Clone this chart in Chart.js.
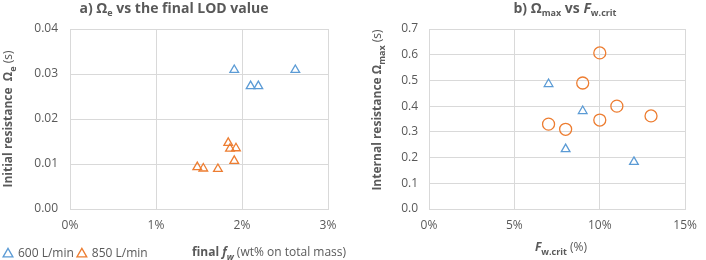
<!DOCTYPE html>
<html>
<head>
    <script src="https://cdn.jsdelivr.net/npm/chart.js@4.4.1/dist/chart.umd.min.js"></script>
    <style>
        body { margin: 0; background: #fff; }
        .box { position: absolute; top: 0; width: 353px; height: 260px; }
    </style>
</head>
<body>
<div class="box" style="left:0"><canvas id="chartA" width="353" height="260"></canvas></div>
<div class="box" style="left:353px"><canvas id="chartB" width="353" height="260"></canvas></div>

<script>
    // a) final LOD (%) vs initial resistance
    const lod600 = [1.91, 2.10, 2.19, 2.62];
    const omegaE600 = [0.0309, 0.0273, 0.0273, 0.0309];
    const lod850 = [1.48, 1.55, 1.72, 1.84, 1.86, 1.93, 1.91];
    const omegaE850 = [0.0093, 0.0090, 0.0089, 0.0147, 0.0134, 0.0135, 0.0107];

    // b) Fw.crit (%) vs internal resistance
    const fw600 = [7, 9, 8, 12];
    const omegaMax600 = [0.486, 0.381, 0.233, 0.183];
    const fw850 = [10, 9, 11, 13, 10, 7, 8];
    const omegaMax850 = [0.607, 0.490, 0.400, 0.362, 0.346, 0.330, 0.310];

    const seriesNames = ['600 L/min', '850 L/min'];

    const BLUE = '#5b9bd5';
    const ORANGE = '#ed7d31';
    const GRID = '#d9d9d9';
    const TXT = '#595959';
    const FONT = '"Open Sans"';

    function pts(xs, ys) {
        return xs.map((x, i) => ({x: x, y: ys[i]}));
    }

    // draws a line of text made of pieces, some of them subscript
    function drawRich(ctx, parts, cx, cy, rotate) {
        ctx.save();
        ctx.translate(cx, cy);
        if (rotate) ctx.rotate(-Math.PI / 2);
        ctx.fillStyle = TXT;
        ctx.textBaseline = 'middle';
        let total = 0;
        parts.forEach(p => {
            ctx.font = p.font;
            p.w = ctx.measureText(p.text).width;
            total += p.w;
        });
        let x = -total / 2;
        parts.forEach(p => {
            ctx.font = p.font;
            ctx.fillText(p.text, x, p.sub ? 4 : 0);
            x += p.w;
        });
        ctx.restore();
    }

    const richText = {
        id: 'richText',
        afterDraw(chart, args, opts) {
            (opts.items || []).forEach(it => drawRich(chart.ctx, it.parts, it.x, it.y, it.rotate));
        }
    };

    const B14 = 'bold 14px ' + FONT;
    const B12 = 'bold 12px ' + FONT;
    const R12 = '12px ' + FONT;
    const SUB = 'bold 9px ' + FONT;
    const BI12 = 'italic bold 12px ' + FONT;
    const BI14 = 'italic bold 14px ' + FONT;

    function axisOpts(min, max, step, fmt, pad, width, height) {
        return {
            type: 'linear',
            min: min,
            max: max,
            border: {color: GRID},
            grid: {color: GRID, drawTicks: false},
            ticks: {
                stepSize: step,
                color: TXT,
                padding: pad,
                font: {family: FONT, size: 12},
                callback: fmt
            },
            afterFit: function (s) {
                if (width) s.width = width;
                if (height) s.height = height;
            }
        };
    }

    var chartA = new Chart(document.getElementById('chartA'), {
        type: 'scatter',
        data: {
            datasets: [{
                label: seriesNames[0],
                data: pts(lod600, omegaE600),
                pointStyle: 'triangle',
                pointRadius: 5,
                borderColor: BLUE,
                backgroundColor: 'rgba(0,0,0,0)',
                borderWidth: 1.3
            }, {
                label: seriesNames[1],
                data: pts(lod850, omegaE850),
                pointStyle: 'triangle',
                pointRadius: 5,
                borderColor: ORANGE,
                backgroundColor: 'rgba(0,0,0,0)',
                borderWidth: 1.3
            }]
        },
        options: {
            responsive: false,
            animation: false,
            devicePixelRatio: 1,
            layout: {padding: {top: 29, right: 25, bottom: -10, left: 0}},
            scales: {
                x: axisOpts(0, 3, 1, v => v + '%', 9, 0, 35),
                y: axisOpts(0, 0.04, 0.01, v => v.toFixed(2), 12, 70, 0)
            },
            plugins: {
                tooltip: {enabled: false},
                legend: {
                    position: 'bottom',
                    align: 'start',
                    labels: {
                        usePointStyle: true,
                        boxWidth: 8,
                        boxHeight: 8,
                        padding: 4,
                        color: TXT,
                        font: {family: FONT, size: 12}
                    }
                },
                richText: {
                    items: [
                        {x: 174, y: 9, parts: [
                            {text: 'a) Ω', font: B14},
                            {text: 'e', font: SUB, sub: true},
                            {text: ' vs the final LOD value', font: B14}]},
                        {x: 9, y: 119, rotate: true, parts: [
                            {text: 'Initial resistance  Ω', font: B12},
                            {text: 'e', font: SUB, sub: true},
                            {text: ' (s)', font: R12}]},
                        {x: 269, y: 253, parts: [
                            {text: 'final ', font: B12},
                            {text: 'f', font: BI12},
                            {text: 'w', font: 'italic ' + SUB, sub: true},
                            {text: ' (wt% on total mass)', font: R12}]}
                    ]
                }
            }
        },
        plugins: [richText]
    });

    var chartB = new Chart(document.getElementById('chartB'), {
        type: 'scatter',
        data: {
            datasets: [{
                label: seriesNames[0],
                data: pts(fw600, omegaMax600),
                pointStyle: 'triangle',
                pointRadius: 5,
                borderColor: BLUE,
                backgroundColor: 'rgba(0,0,0,0)',
                borderWidth: 1.3
            }, {
                label: seriesNames[1],
                data: pts(fw850, omegaMax850),
                pointStyle: 'circle',
                pointRadius: 6,
                borderColor: ORANGE,
                backgroundColor: 'rgba(0,0,0,0)',
                borderWidth: 1.3
            }]
        },
        options: {
            responsive: false,
            animation: false,
            devicePixelRatio: 1,
            layout: {padding: {top: 29, right: 12, bottom: 27, left: 0}},
            scales: {
                x: axisOpts(0, 15, 5, v => v + '%', 9, 0, 24),
                y: axisOpts(0, 0.7, 0.1, v => v.toFixed(1), 11, 76, 0)
            },
            plugins: {
                tooltip: {enabled: false},
                legend: {display: false},
                richText: {
                    items: [
                        {x: 212, y: 9, parts: [
                            {text: 'b) Ω', font: B14},
                            {text: 'max', font: SUB, sub: true},
                            {text: ' vs ', font: B14},
                            {text: 'F', font: BI14},
                            {text: 'w.crit', font: SUB, sub: true}]},
                        {x: 25, y: 110, rotate: true, parts: [
                            {text: 'Internal resistance Ω', font: B12},
                            {text: 'max', font: SUB, sub: true},
                            {text: ' (s)', font: R12}]},
                        {x: 208, y: 248, parts: [
                            {text: 'F', font: BI12},
                            {text: 'w.crit', font: SUB, sub: true},
                            {text: ' (%)', font: R12}]}
                    ]
                }
            }
        },
        plugins: [richText]
    });
</script>
</body>
</html>
